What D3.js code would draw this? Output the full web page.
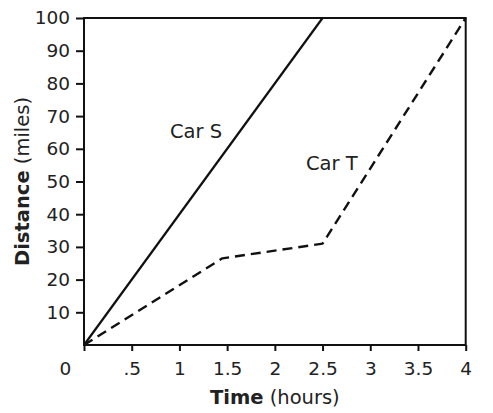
<!DOCTYPE html>
<html><head><meta charset="utf-8">
<script src="https://cdn.jsdelivr.net/npm/d3@7"></script>
<style>body{margin:0;background:#fff}text{font-family:Verdana,"DejaVu Sans",sans-serif;fill:#222}</style>
</head><body>
<svg id="c" width="493" height="413"></svg>
<script>
const xTicks = [0, 0.5, 1, 1.5, 2, 2.5, 3, 3.5, 4];
const xTickLabels = ["0", ".5", "1", "1.5", "2", "2.5", "3", "3.5", "4"];
const yTicks = [10, 20, 30, 40, 50, 60, 70, 80, 90, 100];
const carSTime = [0, 2.5];
const carSDist = [0, 100];
const carTTime = [0, 1.45, 2.5, 4];
const carTDist = [0, 26.5, 31, 100];
const seriesLabels = ["Car S", "Car T"];

const svg = d3.select("#c");
const L = 84, R = 465.7, T = 18, B = 345;
const x = d3.scaleLinear().domain([0, 4]).range([L, R]);
const y = d3.scaleLinear().domain([0, 100]).range([B, T]);

// frame
svg.append("rect").attr("x", L).attr("y", T).attr("width", R - L).attr("height", B - T)
  .attr("fill", "none").attr("stroke", "#111").attr("stroke-width", 2);

// y axis
const ya = svg.append("g").attr("transform", `translate(${L},0)`)
  .call(d3.axisLeft(y).tickValues(yTicks).tickSize(8).tickPadding(6));
ya.select(".domain").remove();
ya.selectAll("line").attr("stroke", "#111").attr("stroke-width", 2);
ya.selectAll("text").style("font-size", "18.5px").attr("fill", "#222");

// x axis
const xa = svg.append("g").attr("transform", `translate(0,${B})`)
  .call(d3.axisBottom(x).tickValues(xTicks).tickSize(6).tickPadding(11)
    .tickFormat((d, i) => xTickLabels[i]));
xa.select(".domain").remove();
xa.selectAll("line").attr("stroke", "#111").attr("stroke-width", 2);
xa.selectAll("text").style("font-size", "18.5px").attr("fill", "#222")
  .attr("dx", (d) => d === 0 ? -19 : 0);

// lines
const line = d3.line().x(d => x(d[0])).y(d => y(d[1]));
svg.append("path").datum(carSTime.map((t, i) => [t, carSDist[i]]))
  .attr("d", line).attr("fill", "none").attr("stroke", "#111").attr("stroke-width", 2.2);
svg.append("path").datum(carTTime.map((t, i) => [t, carTDist[i]]))
  .attr("d", line).attr("fill", "none").attr("stroke", "#111").attr("stroke-width", 2.4)
  .attr("stroke-dasharray", "10,6").attr("stroke-linejoin", "round");

// series labels
svg.append("text").attr("x", 170).attr("y", 138).style("font-size", "19.5px").text(seriesLabels[0]);
svg.append("text").attr("x", 306).attr("y", 170).style("font-size", "19.5px").text(seriesLabels[1]);

// axis titles
const xt = svg.append("text").attr("x", x(2)).attr("y", 404).attr("text-anchor", "middle").style("font-size", "19.5px");
xt.append("tspan").attr("font-weight", "bold").text("Time");
xt.append("tspan").text(" (hours)");

const yt = svg.append("text").attr("transform", `translate(29,${(T + B) / 2}) rotate(-90)`)
  .attr("text-anchor", "middle").style("font-size", "19.5px");
yt.append("tspan").attr("font-weight", "bold").text("Distance");
yt.append("tspan").text(" (miles)");
</script>
</body></html>
